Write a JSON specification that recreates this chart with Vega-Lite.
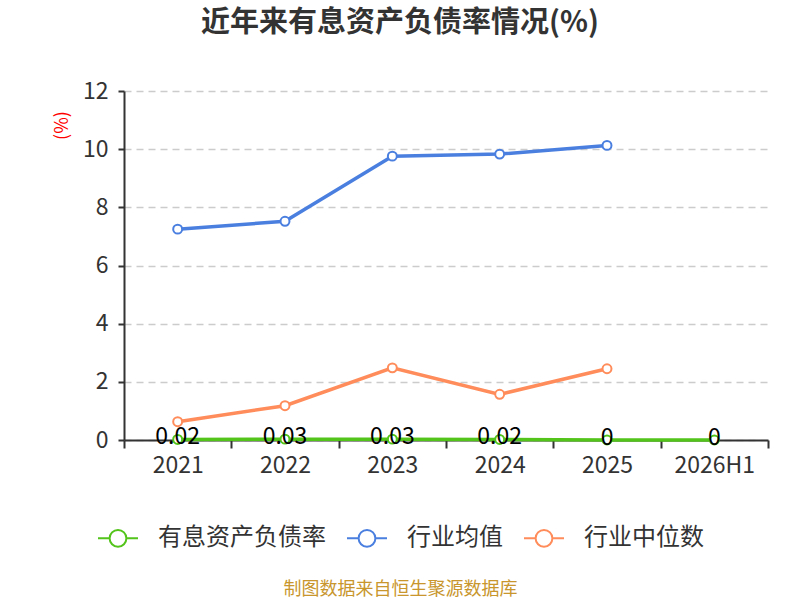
{
  "$schema": "https://vega.github.io/schema/vega-lite/v6.json",
  "autosize": {"type": "none"},
  "width": 644,
  "height": 349,
  "padding": {"left": 124, "top": 91, "right": 32, "bottom": 160},
  "background": "white",
  "title": {
    "text": "近年来有息资产负债率情况(%)",
    "frame": "group",
    "anchor": "middle",
    "dx": -46,
    "offset": 42,
    "fontSize": 29,
    "fontWeight": "bold",
    "color": "#333333",
    "font": "Noto Sans CJK SC"
  },
  "config": {
    "view": {"stroke": null},
    "font": "Noto Sans CJK SC"
  },
  "data": {
    "values": [
      {"year": "2021", "series": "有息资产负债率", "value": 0.02},
      {"year": "2022", "series": "有息资产负债率", "value": 0.03},
      {"year": "2023", "series": "有息资产负债率", "value": 0.03},
      {"year": "2024", "series": "有息资产负债率", "value": 0.02},
      {"year": "2025", "series": "有息资产负债率", "value": 0},
      {"year": "2026H1", "series": "有息资产负债率", "value": 0},
      {"year": "2021", "series": "行业均值", "value": 7.25},
      {"year": "2022", "series": "行业均值", "value": 7.52},
      {"year": "2023", "series": "行业均值", "value": 9.76},
      {"year": "2024", "series": "行业均值", "value": 9.83},
      {"year": "2025", "series": "行业均值", "value": 10.13},
      {"year": "2021", "series": "行业中位数", "value": 0.63},
      {"year": "2022", "series": "行业中位数", "value": 1.18},
      {"year": "2023", "series": "行业中位数", "value": 2.48},
      {"year": "2024", "series": "行业中位数", "value": 1.57},
      {"year": "2025", "series": "行业中位数", "value": 2.45}
    ]
  },
  "encoding": {
    "x": {
      "field": "year",
      "type": "nominal",
      "sort": null,
      "bandPosition": 0.5,
      "scale": {"type": "band", "paddingInner": 0, "paddingOuter": 0},
      "axis": {
        "title": "制图数据来自恒生聚源数据库",
        "titleColor": "#c8962d",
        "titleFontSize": 18,
        "titleFontWeight": "normal",
        "titleX": 276,
        "titleY": 149,
        "titleBaseline": "middle",
        "labelAngle": 0,
        "labelFontSize": 23,
        "labelColor": "#333333",
        "labelPadding": 6,
        "domainColor": "#333333",
        "domainWidth": 2,
        "tickColor": "#333333",
        "tickWidth": 2,
        "tickSize": 8,
        "tickBand": "extent",
        "grid": false
      }
    },
    "y": {
      "field": "value",
      "type": "quantitative",
      "scale": {"domain": [0, 12]},
      "axis": {
        "title": "(%)",
        "titleColor": "#ff0000",
        "titleFontSize": 18,
        "titleFontWeight": "normal",
        "titleX": -62,
        "titleY": 34,
        "titleAngle": 270,
        "titleBaseline": "middle",
        "titleAlign": "center",
        "values": [0, 2, 4, 6, 8, 10, 12],
        "labelFontSize": 23,
        "labelColor": "#333333",
        "labelPadding": 10,
        "domainColor": "#333333",
        "domainWidth": 2,
        "tickColor": "#333333",
        "tickWidth": 2,
        "tickSize": 6,
        "gridColor": "#cccccc",
        "gridDash": [7, 5],
        "gridWidth": 1.5
      }
    },
    "color": {
      "field": "series",
      "type": "nominal",
      "scale": {
        "domain": ["有息资产负债率", "行业均值", "行业中位数"],
        "range": ["#52c41a", "#4a7fe0", "#ff8c5a"]
      },
      "legend": {
        "title": null,
        "orient": "none",
        "direction": "horizontal",
        "legendX": -27,
        "legendY": 426,
        "symbolType": "M-1,0L-0.42,0M0.42,0L1,0M0.42,0A0.42,0.42,0,1,1,-0.42,0A0.42,0.42,0,1,1,0.42,0",
        "symbolSize": 1600,
        "symbolStrokeWidth": 2,
        "symbolFillColor": "white",
        "labelFontSize": 24,
        "labelLimit": 400,
        "labelColor": "#333333",
        "labelOffset": 19,
        "columnPadding": 17
      }
    }
  },
  "layer": [
    {
      "mark": {
        "type": "line",
        "strokeWidth": 3.5,
        "point": {"filled": false, "fill": "white", "size": 80, "strokeWidth": 2}
      }
    },
    {
      "transform": [{"filter": "datum.series === '有息资产负债率'"}],
      "mark": {"type": "text", "fontSize": 23, "color": "#000000", "baseline": "middle", "dy": -2},
      "encoding": {
        "text": {"field": "value", "type": "quantitative", "format": ".2~f"},
        "color": {"value": "#000000"}
      }
    }
  ]
}
